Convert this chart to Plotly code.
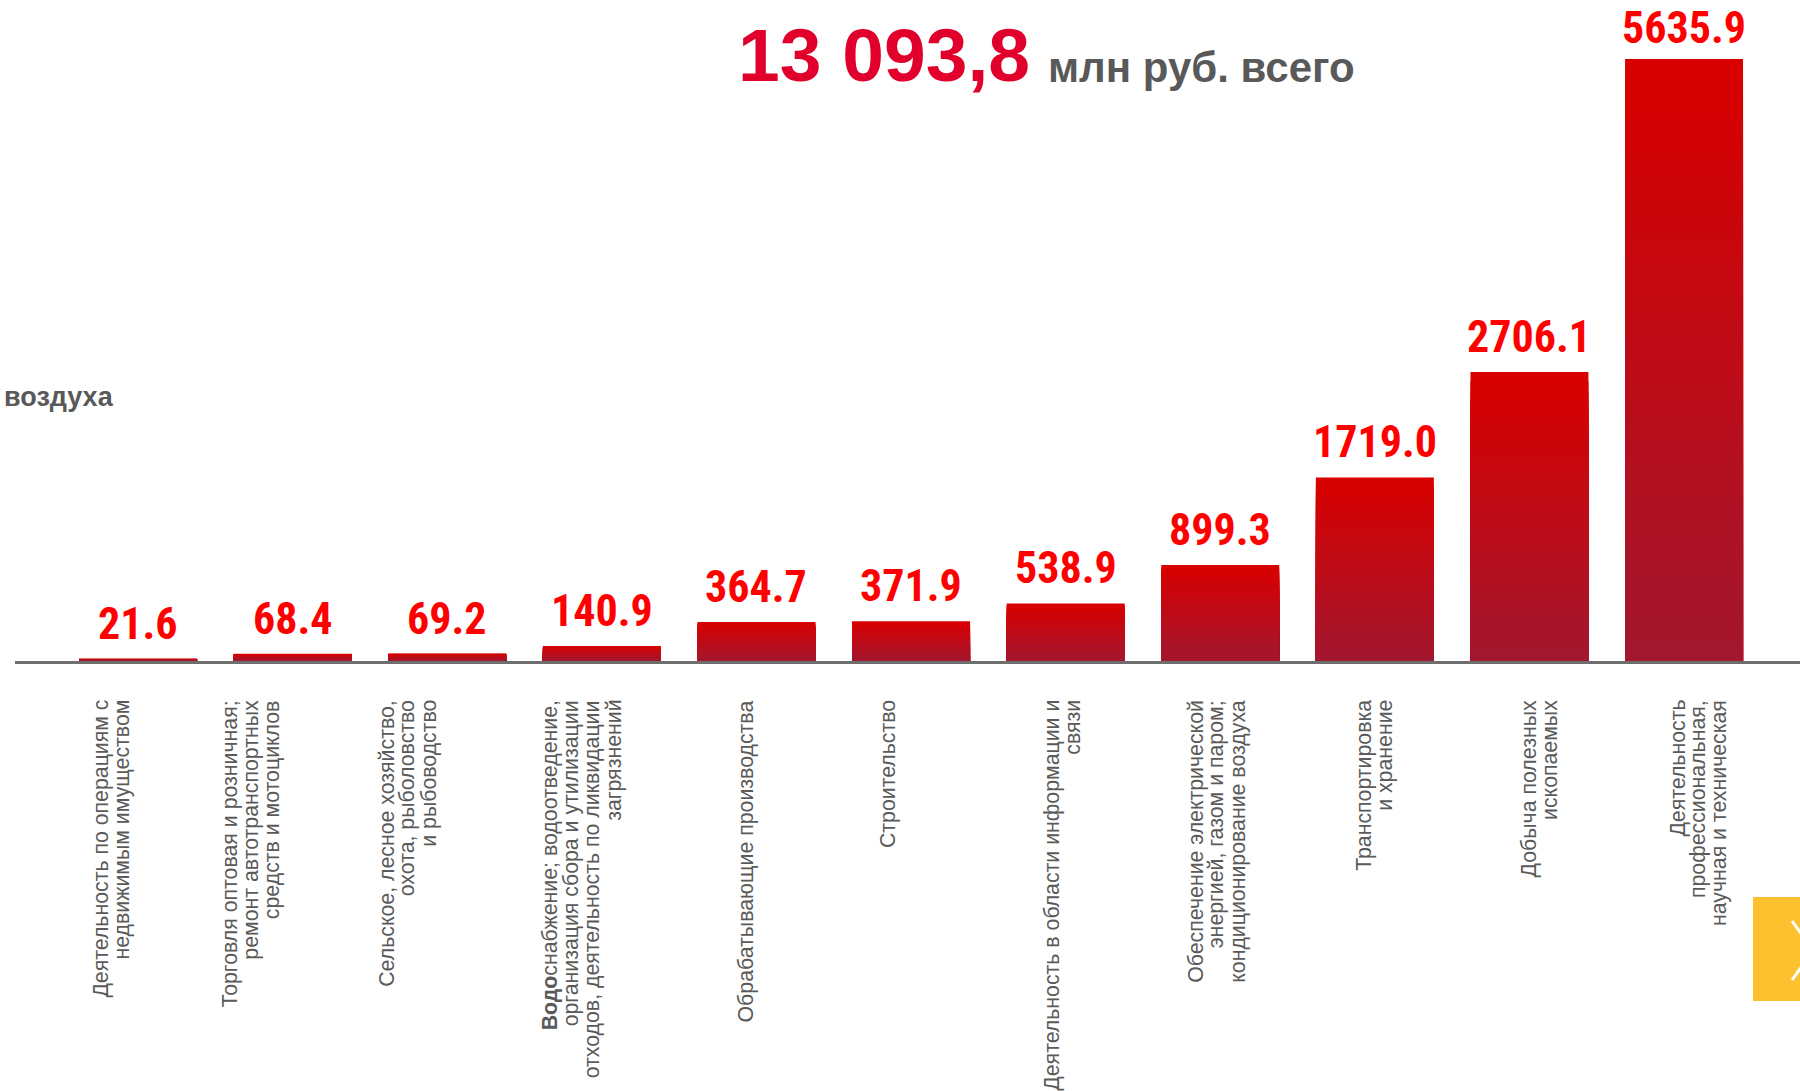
import plotly.graph_objects as go

# ---------------- data ----------------
CATEGORIES = [
    "Деятельность по операциям с<br>недвижимым имуществом",
    "Торговля оптовая и розничная;<br>ремонт автотранспортных<br>средств и мотоциклов",
    "Сельское, лесное хозяйство,<br>охота, рыболовство<br>и рыбоводство",
    "<b>Водо</b>снабжение; водоотведение,<br>организация сбора и утилизации<br>отходов, деятельность по ликвидации<br>загрязнений",
    "Обрабатывающие производства",
    "Строительство",
    "Деятельность в области информации и<br>связи",
    "Обеспечение электрической<br>энергией, газом и паром;<br>кондиционирование воздуха",
    "Транспортировка<br>и хранение",
    "Добыча полезных<br>ископаемых",
    "Деятельность<br>профессиональная,<br>научная и техническая",
]
VALUES = [21.6, 68.4, 69.2, 140.9, 364.7, 371.9, 538.9, 899.3, 1719.0, 2706.1, 5635.9]
TOTAL_TEXT = "13 093,8"
TOTAL_UNIT = "млн руб. всего"
LEFT_FRAGMENT = "воздуха"

# ---------------- layout constants ----------------
W, H = 1800, 1091
ML, MR, MT, MB = 15, 0, 0, 430
PH = H - MT - MB  # plot height in px (661)
PW = W - ML - MR
YMAX = 6188
TOP_COL = (216, 0, 0)
BOT_COL = (163, 23, 47)
N_LAYERS = 30
LABEL_SHIFT = [-27, -42, -40, -20, -10, -23, -4, -4, -1, 10, 14]
LINE_STEP = 21
LABEL_FONT = "Liberation Sans, Arial, sans-serif"
NARROW_FONT = "Liberation Sans Narrow, Arial Narrow, Roboto Condensed, Liberation Sans, sans-serif"


def px_to_py(ypx):
    return 1 - (ypx - MT) / PH


def px_to_px(xpx):
    return (xpx - ML) / PW


fig = go.Figure()

# gradient bars via overlaid layers
for k in range(N_LAYERS):
    t = k / (N_LAYERS - 1)
    col = tuple(round(TOP_COL[i] + (BOT_COL[i] - TOP_COL[i]) * t) for i in range(3))
    frac = 1 - k / N_LAYERS
    fig.add_trace(go.Bar(
        x=CATEGORIES,
        y=[v * frac for v in VALUES],
        marker=dict(color="rgb(%d,%d,%d)" % col, line=dict(width=0)),
        hoverinfo="skip",
        showlegend=False,
    ))

annotations = []
# value labels (kept inside the page top edge)
for c, v in zip(CATEGORIES, VALUES):
    bar_top_px = PH * (1 - v / YMAX)
    ys = min(7, bar_top_px - 56)
    annotations.append(dict(
        x=c, y=v, xref="x", yref="y", text=f"{v:.1f}", showarrow=False,
        xanchor="center", yanchor="bottom", yshift=ys,
        font=dict(family=NARROW_FONT, size=44, color="#ff0000", weight="bold"),
    ))

# category labels (one annotation per line, rotated)
for c, shift in zip(CATEGORIES, LABEL_SHIFT):
    lines = c.split("<br>")
    n = len(lines)
    for i, ln in enumerate(lines):
        annotations.append(dict(
            x=c, y=px_to_py(698), xref="x", yref="paper", text=ln, showarrow=False,
            textangle=-90, xanchor="center", yanchor="top",
            xshift=shift + (i - (n - 1) / 2) * LINE_STEP,
            font=dict(family=LABEL_FONT, size=21.3, color="#5a5a5a"),
        ))

# title pieces
annotations.append(dict(
    x=px_to_px(736), y=px_to_py(55), xref="paper", yref="paper", text=f"<b>{TOTAL_TEXT}</b>",
    showarrow=False, xanchor="left", yanchor="middle",
    font=dict(family=LABEL_FONT, size=75, color="#e1002b"),
))
annotations.append(dict(
    x=px_to_px(1046), y=px_to_py(67), xref="paper", yref="paper", text=f"<b>{TOTAL_UNIT}</b>",
    showarrow=False, xanchor="left", yanchor="middle",
    font=dict(family=LABEL_FONT, size=42, color="#595959"),
))
annotations.append(dict(
    x=px_to_px(2), y=px_to_py(397), xref="paper", yref="paper", text=f"<b>{LEFT_FRAGMENT}</b>",
    showarrow=False, xanchor="left", yanchor="middle",
    font=dict(family=LABEL_FONT, size=27, color="#595959"),
))

shapes = [
    dict(type="rect", xref="paper", yref="paper",
         x0=px_to_px(1753), x1=px_to_px(1800), y0=px_to_py(897), y1=px_to_py(1001),
         fillcolor="#fdc02f", line=dict(width=0), layer="above"),
    dict(type="line", xref="paper", yref="paper",
         x0=px_to_px(1792), y0=px_to_py(921), x1=px_to_px(1802), y1=px_to_py(935),
         line=dict(color="white", width=3)),
    dict(type="line", xref="paper", yref="paper",
         x0=px_to_px(1792), y0=px_to_py(980), x1=px_to_px(1802), y1=px_to_py(966),
         line=dict(color="white", width=3)),
]

fig.update_layout(
    width=W, height=H,
    margin=dict(l=ML, r=MR, t=MT, b=MB, pad=0),
    paper_bgcolor="white", plot_bgcolor="white",
    barmode="overlay", bargap=0.237,
    annotations=annotations, shapes=shapes,
    showlegend=False,
    xaxis=dict(type="category", range=[-0.796, 10.75], showticklabels=False, ticks="",
               showgrid=False, zeroline=False, showline=True, linecolor="#6e6e6e", linewidth=3,
               fixedrange=True),
    yaxis=dict(range=[0, YMAX], visible=False, showgrid=False, zeroline=False, fixedrange=True),
)

fig.write_html(
    "out.html",
    config={"displayModeBar": False},
    post_script="document.body.style.margin='0';document.body.style.overflow='hidden';",
)
